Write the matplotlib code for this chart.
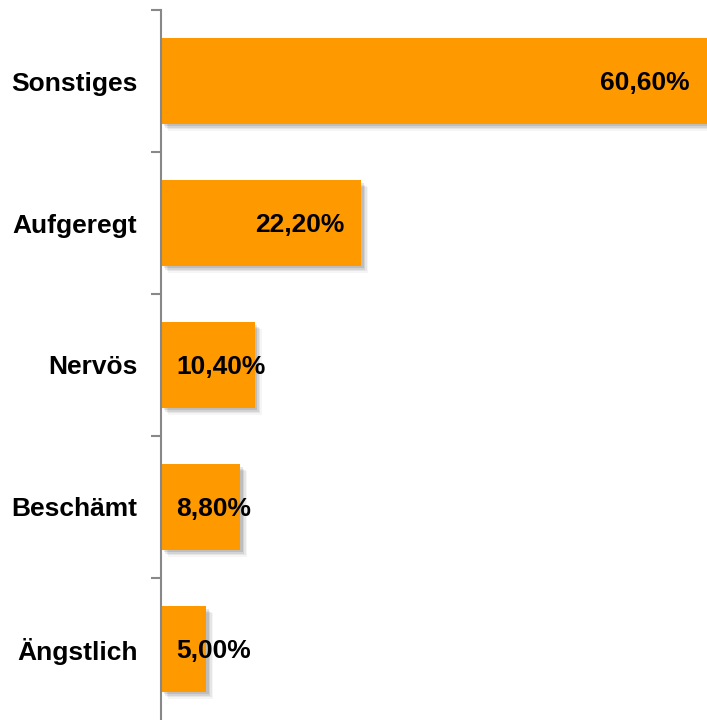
import matplotlib
matplotlib.use("Agg")
import matplotlib.pyplot as plt
import matplotlib.patheffects as pe
from matplotlib.transforms import ScaledTranslation
import numpy as np

categories = ["Sonstiges", "Aufgeregt", "Nervös", "Beschämt", "Ängstlich"]
values = [60.6, 22.2, 10.4, 8.8, 5.0]
labels = ["60,60%", "22,20%", "10,40%", "8,80%", "5,00%"]

plt.rcParams['font.family'] = ['Liberation Sans', 'DejaVu Sans']

fig = plt.figure(figsize=(7.07, 7.20), dpi=100)
ax = fig.add_axes([161/707, 0.0, 1 - 161/707, 1 - 10/720])

y = np.arange(len(categories))[::-1]
shadow = [pe.SimplePatchShadow(offset=(o, -o), shadow_rgbFace='black', alpha=a)
          for o, a in [(5, 0.04), (4, 0.06), (3, 0.08), (2, 0.1)]] + [pe.Normal()]
bars = ax.barh(y, values, height=0.6, color='#FF9900', path_effects=shadow, zorder=2)

ax.set_xlim(0, 60.6)
ax.set_ylim(-0.5, 4.5)

# labels
fig.canvas.draw()
pxu = ax.transData.transform((1, 0))[0] - ax.transData.transform((0, 0))[0]
down = ScaledTranslation(0, -2.5 / 100, fig.dpi_scale_trans)
for yi, v, lab in zip(y, values, labels):
    t = ax.text(0, yi, lab, fontsize=19, fontweight='bold', va='center', ha='left',
                transform=ax.transData + down)
    bb = t.get_window_extent(fig.canvas.get_renderer())
    w_units = bb.width / pxu
    pad = 17 / pxu
    if w_units + 2 * pad <= v:
        t.set_x(v - pad)
        t.set_ha('right')
    else:
        t.set_x(pad - 1.5 / pxu)

ax.set_yticks(y)
ax.set_yticklabels(categories, fontsize=19, fontweight='bold')
ax.tick_params(axis='y', which='major', length=0, pad=17)
ax.set_yticks(np.arange(0.5, 5, 1.0), minor=True)
ax.tick_params(axis='y', which='minor', length=7, width=1.5, color='#888888', direction='out')
ax.set_xticks([])
for s in ['top', 'right', 'bottom']:
    ax.spines[s].set_visible(False)
ax.spines['left'].set_color('#888888')
ax.spines['left'].set_linewidth(1.5)

fig.savefig("out.png", dpi=100)
